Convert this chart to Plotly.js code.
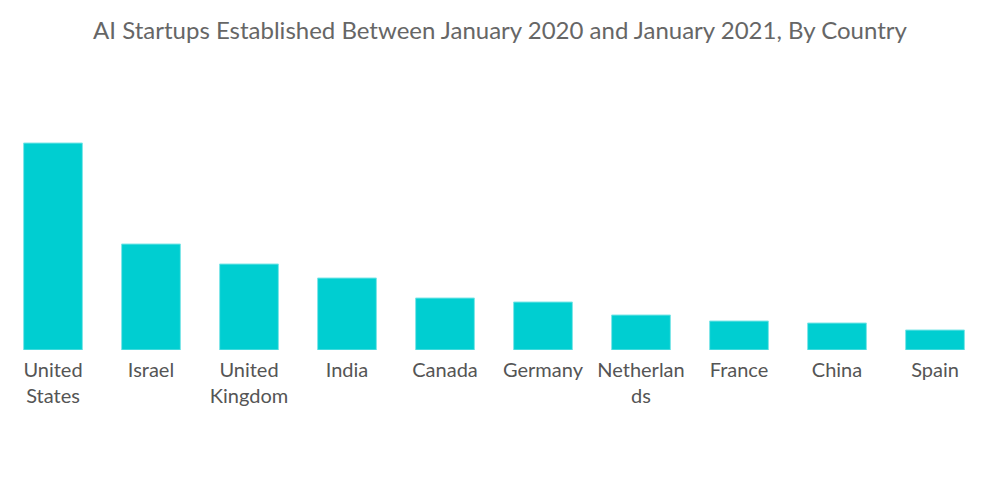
<!DOCTYPE html>
<html><head><meta charset="utf-8">
<script src="https://cdn.plot.ly/plotly-3.0.1.min.js"></script>
<style>html,body{margin:0;padding:0;background:#fff}#chart{width:1000px;height:504px}</style>
</head><body><div id="chart"></div>
<script>
var categories = ["United States","Israel","United Kingdom","India","Canada","Germany","Netherlands","France","China","Spain"];
var tickLabels = ["United<br>States","Israel","United<br>Kingdom","India","Canada","Germany","Netherlan<br>ds","France","China","Spain"];
var startups = [207, 106, 86, 72, 52, 48, 35, 29, 27, 20];

var trace = {
  type: "bar",
  x: categories,
  y: startups,
  width: 0.6,
  marker: {color: "#00CED1", line: {color: "#7fe6e8", width: 1}},
  hoverinfo: "x+y"
};
var layout = {
  width: 1000, height: 504,
  margin: {l: 3.5, r: 15.5, t: 100, b: 154},
  paper_bgcolor: "#fff", plot_bgcolor: "#fff",
  font: {family: "Lato, 'Open Sans', sans-serif", color: "#666"},
  title: {text: "AI Startups Established Between January 2020 and January 2021, By Country",
          font: {size: 24, color: "#666"}, x: 0.5, xanchor: "center", y: 0.94, yanchor: "middle"},
  xaxis: {tickmode: "array", tickvals: categories, ticktext: tickLabels, ticklabelstandoff: 6,
          showgrid: false, zeroline: false, showline: false, ticks: "", tickfont: {size: 20, color: "#555"}},
  yaxis: {range: [0, 250], visible: false, showgrid: false, zeroline: false},
  bargap: 0.4,
  showlegend: false
};
Plotly.newPlot("chart", [trace], layout, {displayModeBar: false, staticPlot: true});
</script></body></html>
